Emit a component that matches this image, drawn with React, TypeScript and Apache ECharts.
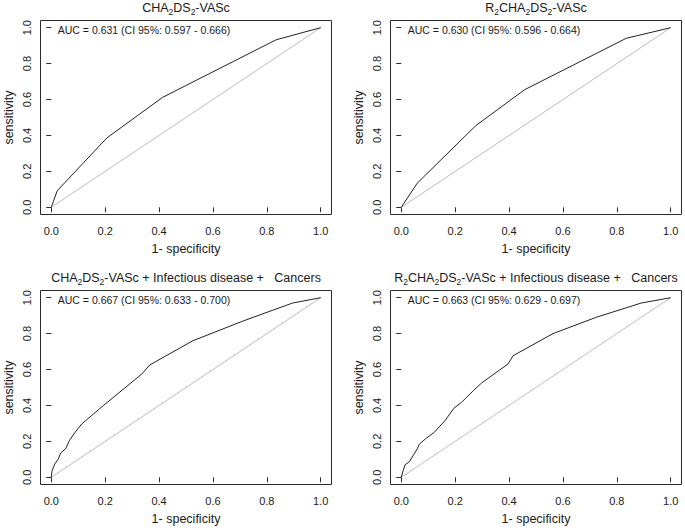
import React, { useEffect, useRef } from "react";
import * as echarts from "echarts";

// ---- data ----
const tickValues = [0, 0.2, 0.4, 0.6, 0.8, 1.0];

const panelTitles = [
  "CHA{s|2}DS{s|2}-VASc",
  "R{s|2}CHA{s|2}DS{s|2}-VASc",
  "CHA{s|2}DS{s|2}-VASc + Infectious disease +   Cancers",
  "R{s|2}CHA{s|2}DS{s|2}-VASc + Infectious disease +   Cancers",
];

const aucLabels = [
  "AUC = 0.631 (CI 95%: 0.597 - 0.666)",
  "AUC = 0.630 (CI 95%: 0.596 - 0.664)",
  "AUC = 0.667 (CI 95%: 0.633 - 0.700)",
  "AUC = 0.663 (CI 95%: 0.629 - 0.697)",
];

const xAxisName = "1- specificity";
const yAxisName = "sensitivity";

const identityX = [0, 1];
const identityY = [0, 1];

const fprCha = [0, 0.022, 0.206, 0.413, 0.835, 1];
const tprCha = [0, 0.092, 0.386, 0.612, 0.933, 1];

const fprR2Cha = [0, 0.059, 0.276, 0.458, 0.835, 1];
const tprR2Cha = [0, 0.134, 0.454, 0.655, 0.941, 1];

const fprChaPlus = [0, 0.003, 0.013, 0.026, 0.035, 0.054, 0.067, 0.088, 0.113, 0.193, 0.336, 0.365, 0.525, 0.715, 0.895, 1];
const tprChaPlus = [0, 0.037, 0.074, 0.102, 0.135, 0.161, 0.204, 0.25, 0.297, 0.399, 0.575, 0.625, 0.76, 0.872, 0.97, 1];

const fprR2ChaPlus = [0, 0.007, 0.014, 0.03, 0.059, 0.067, 0.094, 0.122, 0.162, 0.195, 0.224, 0.267, 0.298, 0.396, 0.415, 0.563, 0.724, 0.89, 1];
const tprR2ChaPlus = [0, 0.037, 0.07, 0.087, 0.158, 0.185, 0.219, 0.25, 0.315, 0.384, 0.418, 0.482, 0.525, 0.631, 0.677, 0.8, 0.891, 0.97, 1];

const curves = [
  [fprCha, tprCha],
  [fprR2Cha, tprR2Cha],
  [fprChaPlus, tprChaPlus],
  [fprR2ChaPlus, tprR2ChaPlus],
];

// ---- layout / style ----
const FONT = "'Liberation Sans', Arial, Helvetica, sans-serif";
const INK = "#1a1a1a";
const panelPos = [
  { left: 40.5, top: 20.5 },
  { left: 390.5, top: 20.5 },
  { left: 40.5, top: 290.5 },
  { left: 390.5, top: 290.5 },
];
const PW = 291;
const PH = 194;

const zip = (xs: number[], ys: number[]) => xs.map((x, i) => [x, ys[i]]);

export default function App() {
  const ref = useRef<HTMLDivElement>(null);
  useEffect(() => {
    document.body.style.margin = "0";
    if (!ref.current) return;
    const chart = echarts.init(ref.current, null, { renderer: "svg" });

    const grid = panelPos.map((p) => ({
      left: p.left,
      top: p.top,
      width: PW,
      height: PH,
      show: true,
      borderColor: "#2a2a2a",
      borderWidth: 1,
      backgroundColor: "transparent",
      containLabel: false,
    }));

    const xAxis = panelPos.map((_, i) => ({
      type: "value",
      gridIndex: i,
      min: -0.04,
      max: 1.04,
      axisLine: { show: false },
      splitLine: { show: false },
      axisTick: {
        show: true,
        customValues: tickValues,
        length: 5,
        lineStyle: { color: "#2a2a2a", width: 1 },
      },
      axisLabel: {
        customValues: tickValues,
        formatter: (v: number) => v.toFixed(1),
        margin: 11,
        fontSize: 11,
        fontFamily: FONT,
        color: INK,
      },
      name: xAxisName,
      nameLocation: "middle",
      nameGap: 28,
      nameTextStyle: { fontSize: 12.5, fontFamily: FONT, color: INK },
    }));

    const yAxis = panelPos.map((_, i) => ({
      type: "value",
      gridIndex: i,
      min: -0.04,
      max: 1.04,
      axisLine: { show: false },
      splitLine: { show: false },
      axisTick: {
        show: true,
        customValues: tickValues,
        length: 5,
        lineStyle: { color: "#2a2a2a", width: 1 },
      },
      axisLabel: {
        customValues: tickValues,
        formatter: (v: number) => v.toFixed(1),
        rotate: 90,
        margin: 8,
        fontSize: 11,
        fontFamily: FONT,
        color: INK,
      },
      name: yAxisName,
      nameLocation: "middle",
      nameGap: 25,
      nameTextStyle: { fontSize: 12.5, fontFamily: FONT, color: INK },
    }));

    const series: any[] = [];
    curves.forEach(([xs, ys], i) => {
      series.push({
        type: "line",
        xAxisIndex: i,
        yAxisIndex: i,
        data: zip(identityX, identityY),
        showSymbol: false,
        silent: true,
        lineStyle: { color: "#bdbdbd", width: 1 },
      });
      series.push({
        type: "line",
        xAxisIndex: i,
        yAxisIndex: i,
        data: zip(xs, ys),
        showSymbol: false,
        silent: true,
        lineStyle: { color: "#222", width: 1 },
      });
    });

    const graphic: any[] = [];
    panelPos.forEach((p, i) => {
      graphic.push({
        type: "text",
        x: p.left + PW / 2,
        y: p.top - 12.5,
        style: {
          text: panelTitles[i],
          fontSize: 12.5,
          fontFamily: FONT,
          fill: INK,
          lineHeight: 16,
          align: "center",
          verticalAlign: "middle",
          rich: {
            s: {
              fontSize: 8.5,
              fontFamily: FONT,
              fill: INK,
              lineHeight: 9,
              verticalAlign: "bottom",
            },
          },
        },
      });
      graphic.push({
        type: "text",
        x: p.left + 103.5,
        y: p.top + 9.5,
        style: {
          text: aucLabels[i],
          fontSize: 10.5,
          fontFamily: FONT,
          fill: INK,
          align: "center",
          verticalAlign: "middle",
        },
      });
    });

    chart.setOption({
      animation: false,
      backgroundColor: "#ffffff",
      grid,
      xAxis,
      yAxis,
      series,
      graphic,
    });
    return () => chart.dispose();
  }, []);
  return (
    <div
      ref={ref}
      style={{ position: "absolute", left: 0, top: 0, width: 685, height: 530 }}
    />
  );
}
